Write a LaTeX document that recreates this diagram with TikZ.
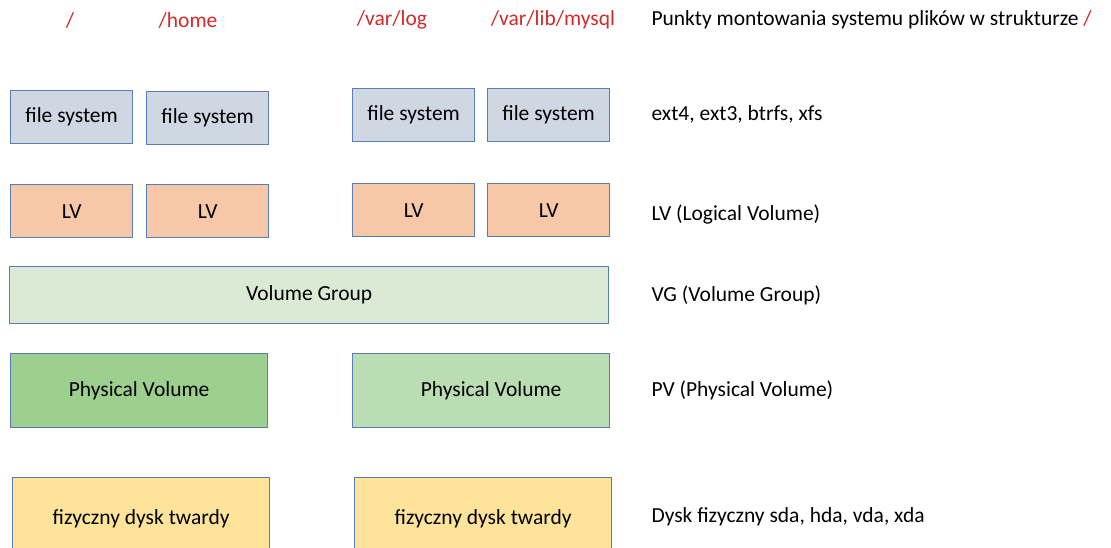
\documentclass[tikz,border=0pt]{standalone}
\usepackage{fontspec}
\setmainfont{Carlito}
\definecolor{edge}{HTML}{5A7DB5}
\definecolor{fsfill}{HTML}{CFD7E2}
\definecolor{lvfill}{HTML}{F7C8A8}
\definecolor{vgfill}{HTML}{DAEAD5}
\definecolor{pvdark}{HTML}{9DD08E}
\definecolor{pvlight}{HTML}{BADDB4}
\definecolor{diskfill}{HTML}{FDE49A}
\definecolor{mountred}{HTML}{D32A2A}
\tikzset{
  layerbox/.style={draw=edge, line width=1.3pt, inner sep=0pt, anchor=north west,
    font=\fontsize{21.5}{25}\selectfont},
  smallbox/.style={layerbox, minimum width=122pt, minimum height=53pt},
  widebox/.style={layerbox, minimum width=257pt, minimum height=74pt},
  mount/.style={text=mountred, font=\fontsize{21.5}{25}\selectfont, anchor=center},
  desc/.style={anchor=west, font=\fontsize{21.5}{25}\selectfont}
}
\begin{document}
\begin{tikzpicture}[x=1pt,y=-1pt]
\useasboundingbox (0,0) rectangle (1111,548);
\clip (0,0) rectangle (1111,548);
% mount points
\node[mount] (m1) at (70,20) {/};
\node[mount] (m2) at (188,20) {/home};
\node[mount] (m3) at (392,20) {/var/log};
\node[mount] (m4) at (553,20) {/var/lib/mysql};
% file systems
\node[smallbox, fill=fsfill] (fs1) at (10,90) {\raisebox{-2pt}{file system}};
\node[smallbox, fill=fsfill] (fs2) at (146,91) {\raisebox{-2pt}{file system}};
\node[smallbox, fill=fsfill] (fs3) at (352,88) {file system};
\node[smallbox, fill=fsfill] (fs4) at (487,88) {file system};
% logical volumes
\node[smallbox, fill=lvfill] (lv1) at (10,184) {LV};
\node[smallbox, fill=lvfill] (lv2) at (146,184) {LV};
\node[smallbox, fill=lvfill] (lv3) at (352,183) {LV};
\node[smallbox, fill=lvfill] (lv4) at (487,183) {LV};
% volume group
\node[layerbox, fill=vgfill, minimum width=599pt, minimum height=57pt] (vg) at (9,266) {Volume Group};
% physical volumes
\node[widebox, fill=pvdark] (pv1) at (10,353) {Physical Volume};
\node[widebox, fill=pvlight] (pv2) at (352,353) {\hspace*{20pt}Physical Volume};
% disks (bottom edge runs off the page)
\node[widebox, fill=diskfill, minimum height=80pt, text depth=0pt] (d1) at (12,477) {\raisebox{2pt}{fizyczny dysk twardy}};
\node[widebox, fill=diskfill, minimum height=80pt, text depth=0pt] (d2) at (354,477) {\raisebox{2pt}{fizyczny dysk twardy}};
% descriptions
\node[desc] (t1) at (648,20) {Punkty montowania systemu plików w strukturze \textcolor{mountred}{/}};
\node[desc] (t2) at (648,114) {ext4, ext3, btrfs, xfs};
\node[desc] (t3) at (648,214) {LV (Logical Volume)};
\node[desc] (t4) at (648,295) {VG (Volume Group)};
\node[desc] (t5) at (648,390) {PV (Physical Volume)};
\node[desc] (t6) at (648,517) {Dysk fizyczny sda, hda, vda, xda};
\end{tikzpicture}
\end{document}
